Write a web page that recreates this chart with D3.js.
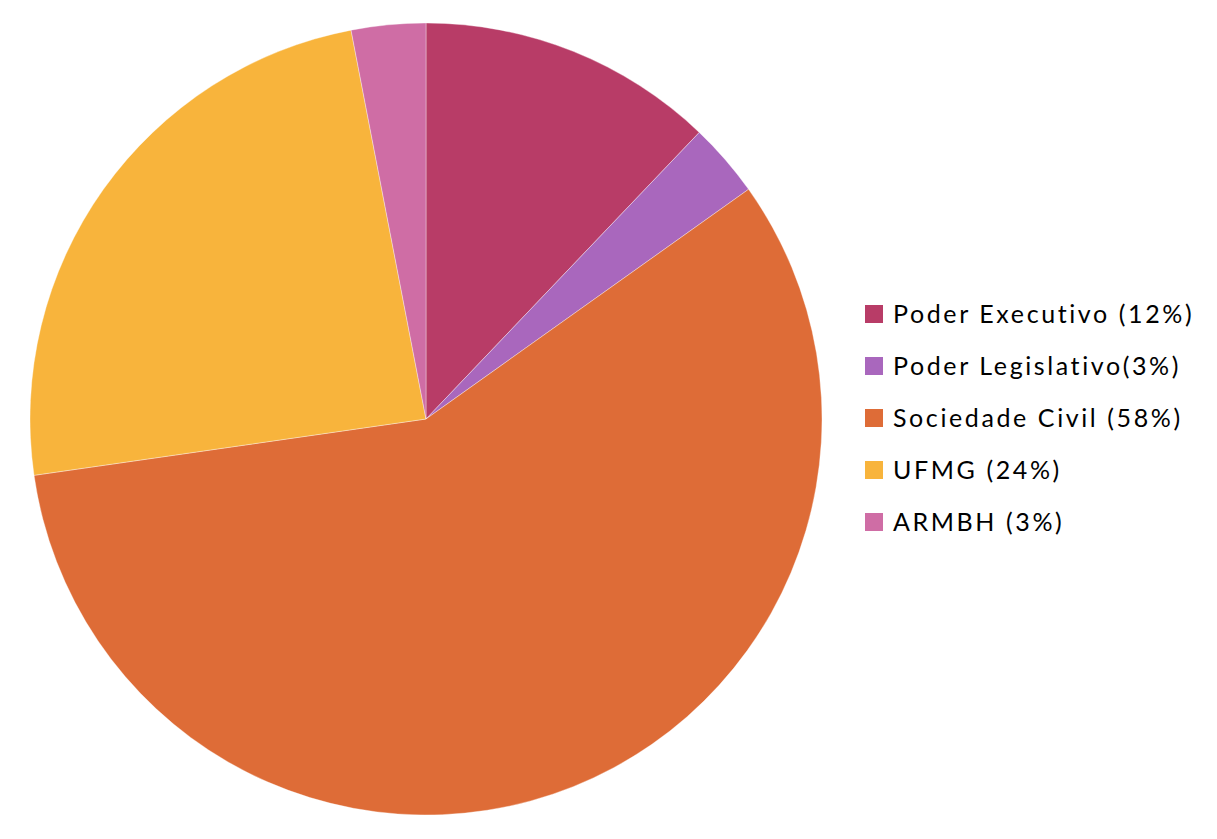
<!DOCTYPE html>
<html><head><meta charset="utf-8">
<script src="https://cdn.jsdelivr.net/npm/d3@7"></script>
<style>html,body{margin:0;padding:0;background:#fff;}svg{display:block;}</style>
</head><body>
<svg id="chart" width="1217" height="839"></svg>
<script>
const categories = ["Poder Executivo", "Poder Legislativo", "Sociedade Civil", "UFMG", "ARMBH"];
const values = [4, 1, 19, 8, 1];
const legendLabels = ["Poder Executivo (12%)", "Poder Legislativo(3%)", "Sociedade Civil (58%)", "UFMG (24%)", "ARMBH (3%)"];
const colors = ["#B83C67", "#A967BD", "#DE6C37", "#F8B43C", "#CF6DA5"];

const svg = d3.select("#chart");
const cx = 426, cy = 419, r = 396;
const color = d3.scaleOrdinal().domain(categories).range(colors);
const pie = d3.pie().sort(null).value(d => d.v);
const arc = d3.arc().innerRadius(0).outerRadius(r);
const data = categories.map((c, i) => ({c, v: values[i]}));

svg.append("g").attr("transform", `translate(${cx},${cy})`)
  .selectAll("path").data(pie(data)).join("path")
  .attr("d", arc).attr("fill", d => color(d.data.c))
  .attr("stroke", "#fff").attr("stroke-width", 0.6).attr("stroke-opacity", 0.6);

const legend = svg.append("g").attr("transform", "translate(865,314)");
const rows = legend.selectAll("g").data(categories).join("g")
  .attr("transform", (d, i) => `translate(0,${i * 52})`);
rows.append("rect").attr("x", 0).attr("y", -9).attr("width", 18).attr("height", 18)
  .attr("fill", d => color(d));
rows.append("text").attr("x", 28).attr("y", 9)
  .attr("font-family", "Lato, sans-serif")
  .attr("font-size", 25).attr("letter-spacing", "2.6px").attr("fill", "#000")
  .text((d, i) => legendLabels[i]);
</script>
</body></html>
